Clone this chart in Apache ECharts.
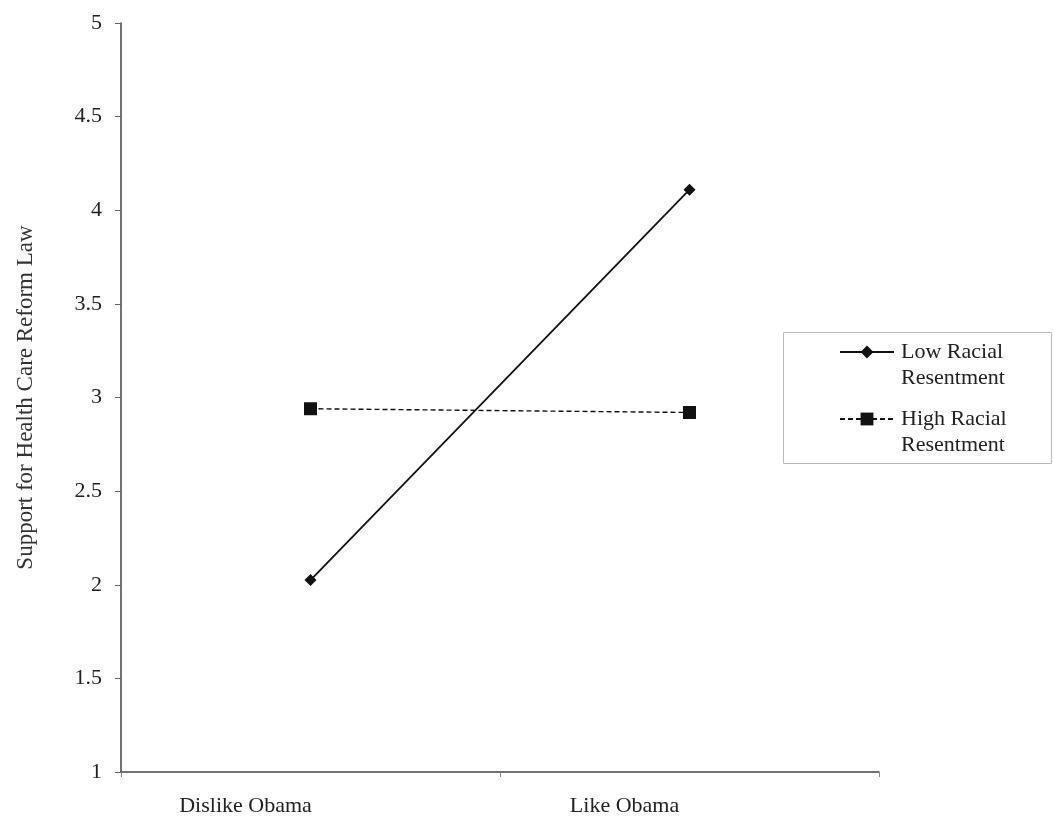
<!DOCTYPE html>
<html>
<head>
<meta charset="utf-8">
<script src="https://cdn.jsdelivr.net/npm/echarts@6/dist/echarts.min.js"></script>
<style>html,body{margin:0;padding:0;background:#fff}#c{width:1054px;height:821px}</style>
</head>
<body>
<div id="c"></div>
<script>
const categories = ['Dislike Obama', 'Like Obama'];
const lowRacial = [2.025, 4.11];
const highRacial = [2.94, 2.92];
const yTicks = [1, 1.5, 2, 2.5, 3, 3.5, 4, 4.5, 5];
const seriesNames = ['Low Racial\nResentment', 'High Racial\nResentment'];
const yTitle = 'Support for Health Care Reform Law';

const font = 'Liberation Serif';
const chart = echarts.init(document.getElementById('c'));
chart.setOption({
  animation: false,
  backgroundColor: '#fff',
  textStyle: { fontFamily: font, color: '#222' },
  grid: { left: 121, right: 175, top: 23, bottom: 49 },
  graphic: [{
    type: 'rect',
    shape: { x: 783.5, y: 332.5, width: 268, height: 131 },
    style: { fill: 'none', stroke: '#bbb', lineWidth: 1 },
    silent: true
  }],
  xAxis: {
    type: 'category',
    data: categories,
    boundaryGap: true,
    axisLine: { lineStyle: { color: '#444', width: 1.5 } },
    axisTick: { show: true, length: 5, lineStyle: { color: '#888' } },
    axisLabel: { fontFamily: font, fontSize: 22, color: '#222', margin: 23, padding: [0, 130, 0, 0] }
  },
  yAxis: {
    type: 'value',
    min: yTicks[0],
    max: yTicks[yTicks.length - 1],
    interval: 0.5,
    name: yTitle,
    nameLocation: 'middle',
    nameGap: 84,
    nameRotate: 90,
    nameTextStyle: { fontFamily: font, fontSize: 23, color: '#333' },
    splitLine: { show: false },
    axisLine: { show: true, lineStyle: { color: '#444', width: 1.5 } },
    axisTick: { show: true, length: 6, lineStyle: { color: '#666' } },
    axisLabel: { fontFamily: font, fontSize: 22, color: '#222', margin: 19 }
  },
  legend: {
    orient: 'vertical',
    left: 839,
    top: 313,
    padding: 0,
    itemGap: -11,
    itemWidth: 54,
    itemHeight: 16,
    formatter: function (name) { return '\n' + name; },
    textStyle: { fontFamily: font, fontSize: 22, color: '#222', lineHeight: 26, padding: [0, 0, 0, 2] },
    data: seriesNames
  },
  series: [
    {
      name: seriesNames[0],
      type: 'line',
      data: lowRacial,
      symbol: 'diamond',
      symbolSize: 12,
      itemStyle: { color: '#111' },
      lineStyle: { color: '#111', width: 1.8 }
    },
    {
      name: seriesNames[1],
      type: 'line',
      data: highRacial,
      symbol: 'rect',
      symbolSize: 13,
      itemStyle: { color: '#111' },
      lineStyle: { color: '#111', width: 1.4, type: [5, 3] }
    }
  ]
});
</script>
</body>
</html>
